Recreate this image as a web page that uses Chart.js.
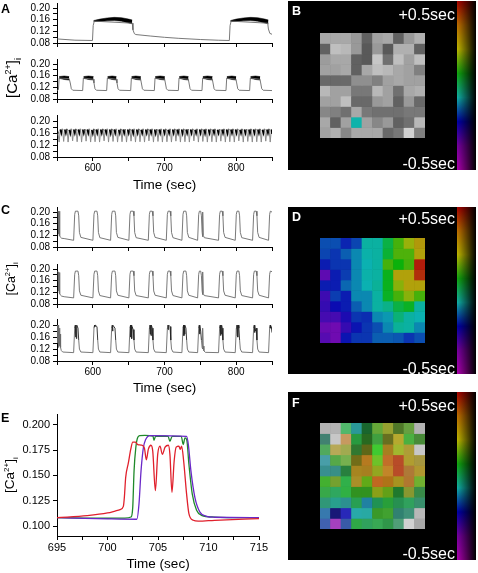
<!DOCTYPE html>
<html>
<head>
<meta charset="utf-8">
<title>Calcium traces and delay maps</title>
<script src="https://cdn.jsdelivr.net/npm/chart.js@4"></script>
<style>
  html, body { margin: 0; padding: 0; background: #fff; }
  #page { position: relative; width: 478px; height: 573px; overflow: hidden; font-family: "Liberation Sans", Arial, sans-serif; }
  canvas { position: absolute; }
  .tag { position: absolute; font-weight: bold; font-size: 12.5px; line-height: 12px; }
  .white { color: #fff; }
  .sec { position: absolute; color: #fff; font-size: 16px; line-height: 16px; right: 23px; }
  .ylab { position: absolute; transform: translate(-50%, -50%) rotate(-90deg); white-space: nowrap; line-height: 1; }
  .ylab sup, .ylab sub { font-size: 60%; line-height: 0; }
</style>
</head>
<body>
<div id="page"></div>
<script>
// ---- axes
const xTicksTrace = [550, 600, 650, 700, 750, 800, 850];
const xLabelsTrace = [600, 700, 800];
const yTicksTrace = [0.08, 0.10, 0.12, 0.14, 0.16, 0.18, 0.20];
const yLabelsTrace = [0.08, 0.12, 0.16, 0.20];
const xTicksE = [695, 697.5, 700, 702.5, 705, 707.5, 710, 712.5, 715];
const xLabelsE = [695, 700, 705, 710, 715];
const yTicksE = [0.1, 0.125, 0.15, 0.175, 0.2];

// ---- panel A traces
const timeA1 = [550, 575, 599.5, 600.5, 602, 655, 656, 658, 660, 680, 700, 720, 750, 775, 790.5, 791.5, 793, 844, 845, 847, 850];
const caA1 = [0.094, 0.0897, 0.0886, 0.14, 0.155, 0.148, 0.125, 0.112, 0.109, 0.104, 0.0995, 0.096, 0.092, 0.0895, 0.0886, 0.14, 0.155, 0.148, 0.128, 0.113, 0.11];
const bandTimeA1 = [601, 610, 620, 630, 640, 650, 655, null, 792, 800, 810, 820, 830, 840, 845];
const bandTopA1 = [0.157, 0.162, 0.166, 0.168, 0.167, 0.162, 0.159, null, 0.157, 0.162, 0.166, 0.168, 0.167, 0.162, 0.159];
const bandLowA1 = [0.154, 0.154, 0.156, 0.157, 0.155, 0.149, 0.146, null, 0.154, 0.154, 0.156, 0.157, 0.155, 0.149, 0.146];

const timeA2 = [550, 552, 553, 567, 568.5, 570, 572,
  585.8, 586.8, 600.6, 601.6, 603, 605,
  619.3, 620.3, 632.7, 633.7, 635.2, 637.2,
  652.8, 653.8, 666.7, 667.7, 669.2, 671.2,
  685.8, 686.8, 700.2, 701.2, 702.7, 704.7,
  719.3, 720.3, 733.2, 734.2, 735.7, 737.7,
  752.3, 753.3, 766.7, 767.7, 769.2, 771.2,
  785.8, 786.8, 799.7, 800.7, 802.2, 804.2,
  818.8, 819.8, 833.2, 834.2, 835.7, 837.7, 850];
const caA2 = [0.109, 0.112, 0.152, 0.15, 0.135, 0.115, 0.11,
  0.109, 0.152, 0.148, 0.135, 0.115, 0.11,
  0.109, 0.152, 0.148, 0.135, 0.115, 0.11,
  0.109, 0.152, 0.148, 0.135, 0.115, 0.11,
  0.109, 0.152, 0.148, 0.135, 0.115, 0.11,
  0.109, 0.152, 0.148, 0.135, 0.115, 0.11,
  0.109, 0.152, 0.148, 0.135, 0.115, 0.11,
  0.109, 0.152, 0.148, 0.135, 0.115, 0.11,
  0.109, 0.152, 0.148, 0.135, 0.115, 0.11, 0.109];
const bandTimeA2 = [553, 560, 567, null, 587, 594, 601, null, 620.5, 627, 633, null, 654, 660, 667, null, 687, 694, 700.5, null, 720.5, 727, 733.5, null, 753.5, 760, 767, null, 787, 794, 800, null, 820, 827, 833.5];
const bandTopA2 = [0.157, 0.159, 0.157, null, 0.157, 0.159, 0.157, null, 0.157, 0.159, 0.157, null, 0.157, 0.159, 0.157, null, 0.157, 0.159, 0.157, null, 0.157, 0.159, 0.157, null, 0.157, 0.159, 0.157, null, 0.157, 0.159, 0.157, null, 0.157, 0.159, 0.157];
const bandLowA2 = [0.151, 0.147, 0.145, null, 0.151, 0.147, 0.145, null, 0.151, 0.147, 0.145, null, 0.151, 0.147, 0.145, null, 0.151, 0.147, 0.145, null, 0.151, 0.147, 0.145, null, 0.151, 0.147, 0.145, null, 0.151, 0.147, 0.145, null, 0.151, 0.147, 0.145];

const timeA3 = [550, 551.5,
  553, 554.6, 556.1, 557.7, 559.3, 560.9, 562.4, 564, 565.5, 567.1, 568.6, 570.2, 571.8, 573.4, 574.9, 576.5,
  578.1, 579.7, 581.2, 582.8, 584.3, 585.9, 587.4, 589, 590.6, 592.2, 593.7, 595.3, 596.9, 598.5, 600, 601.6,
  603.1, 604.7, 606.2, 607.8, 609.4, 611, 612.5, 614.1, 615.7, 617.3, 618.8, 620.4, 621.9, 623.5, 625, 626.6,
  628.2, 629.8, 631.3, 632.9, 634.5, 636.1, 637.6, 639.2, 640.7, 642.3, 643.8, 645.4, 647, 648.6, 650.1, 651.7,
  653.3, 654.9, 656.4, 658, 659.5, 661.1, 662.6, 664.2, 665.8, 667.4, 668.9, 670.5, 672.1, 673.7, 675.2, 676.8,
  678.3, 679.9, 681.4, 683, 684.6, 686.2, 687.7, 689.3, 690.9, 692.5, 694, 695.6, 697.1, 698.7, 700.2, 701.8,
  703.4, 705, 706.5, 708.1, 709.7, 711.3, 712.8, 714.4, 715.9, 717.5, 719, 720.6, 722.2, 723.8, 725.3, 726.9,
  728.5, 730.1, 731.6, 733.2, 734.7, 736.3, 737.8, 739.4, 741, 742.6, 744.1, 745.7, 747.3, 748.9, 750.4, 752,
  753.5, 755.1, 756.6, 758.2, 759.8, 761.4, 762.9, 764.5, 766.1, 767.7, 769.2, 770.8, 772.3, 773.9, 775.4, 777,
  778.6, 780.2, 781.7, 783.3, 784.9, 786.5, 788, 789.6, 791.1, 792.7, 794.2, 795.8, 797.4, 799, 800.5, 802.1,
  803.7, 805.3, 806.8, 808.4, 809.9, 811.5, 813, 814.6, 816.2, 817.8, 819.3, 820.9, 822.5, 824.1, 825.6, 827.2,
  828.7, 830.3, 831.8, 833.4, 835, 836.6, 838.1, 839.7, 841.3, 842.9, 844.4, 846, 847.5, 849.1, 850];
const caA3 = [0.172, 0.158,
  0.13, 0.172, 0.158, 0.174, 0.132, 0.172, 0.158, 0.174, 0.13, 0.171, 0.157, 0.174, 0.134, 0.172, 0.158, 0.174,
  0.131, 0.172, 0.158, 0.174, 0.13, 0.172, 0.158, 0.173, 0.133, 0.172, 0.158, 0.174, 0.13, 0.171, 0.157, 0.174,
  0.131, 0.172, 0.158, 0.174, 0.13, 0.172, 0.158, 0.174, 0.134, 0.172, 0.158, 0.174, 0.13, 0.172, 0.157, 0.174,
  0.132, 0.172, 0.158, 0.174, 0.13, 0.171, 0.158, 0.174, 0.131, 0.172, 0.158, 0.173, 0.13, 0.172, 0.158, 0.174,
  0.133, 0.172, 0.157, 0.174, 0.13, 0.172, 0.158, 0.174, 0.131, 0.171, 0.158, 0.174, 0.13, 0.172, 0.158, 0.174,
  0.134, 0.172, 0.158, 0.174, 0.13, 0.172, 0.157, 0.173, 0.132, 0.172, 0.158, 0.174, 0.13, 0.172, 0.158, 0.174,
  0.131, 0.171, 0.158, 0.174, 0.13, 0.172, 0.158, 0.174, 0.133, 0.172, 0.158, 0.174, 0.13, 0.172, 0.157, 0.174,
  0.131, 0.172, 0.158, 0.173, 0.13, 0.172, 0.158, 0.174, 0.134, 0.171, 0.158, 0.174, 0.13, 0.172, 0.158, 0.174,
  0.132, 0.172, 0.157, 0.174, 0.13, 0.172, 0.158, 0.174, 0.131, 0.172, 0.158, 0.174, 0.13, 0.171, 0.158, 0.173,
  0.133, 0.172, 0.158, 0.174, 0.13, 0.172, 0.157, 0.174, 0.131, 0.172, 0.158, 0.174, 0.13, 0.172, 0.158, 0.174,
  0.134, 0.171, 0.158, 0.174, 0.13, 0.172, 0.158, 0.173, 0.132, 0.172, 0.157, 0.174, 0.13, 0.172, 0.158, 0.174,
  0.131, 0.172, 0.158, 0.174, 0.13, 0.171, 0.158, 0.174, 0.133, 0.172, 0.158, 0.174, 0.13, 0.172, 0.157];

// ---- panel C traces
const timeC = [550.5, 551.5, 552, 552.5, 553, 553.5, 554, 555, 556.5, 560,
  573.2, 574.7, 575.7, 579.3, 580.3, 581.3, 583.3,
  600.1, 601.6, 602.6, 605.8, 606.8, 607.8, 609.8,
  624.8, 626.3, 627.3, 630.9, 631.9, 632.9, 634.9,
  650.3, 651.8, 652.8, 656.4, 657.4, 658.4, 660.4,
  677.4, 678.9, 679.9, 682.9, 683.9, 684.9, 686.9,
  702.5, 704, 705, 707.8, 708.8, 709.8, 711.8,
  724.3, 725.8, 726.8, 729.9, 730.9, 731.9, 733.9,
  746.2, 747.7, 748.7, 750.5, 751.5, 752.5, 753, 753.6, 754.2, 755.5,
  775.4, 776.9, 777.9, 780.5, 781.5, 782.5, 784.5,
  798.7, 800.2, 801.2, 803.8, 804.8, 805.8, 807.8,
  822.9, 824.4, 825.4, 828, 829, 830, 832,
  845.2, 846.7, 847.7, 850];
const caC1 = [0.203, 0.203, 0.125, 0.203, 0.12, 0.203, 0.118, 0.113, 0.11, 0.109,
  0.103, 0.192, 0.203, 0.203, 0.187, 0.13, 0.113,
  0.103, 0.192, 0.203, 0.203, 0.187, 0.13, 0.112,
  0.103, 0.192, 0.203, 0.203, 0.187, 0.13, 0.113,
  0.103, 0.192, 0.203, 0.203, 0.187, 0.13, 0.112,
  0.103, 0.192, 0.203, 0.203, 0.187, 0.13, 0.113,
  0.103, 0.192, 0.203, 0.203, 0.187, 0.13, 0.112,
  0.103, 0.192, 0.203, 0.203, 0.187, 0.13, 0.113,
  0.103, 0.192, 0.203, 0.203, 0.187, 0.13, 0.115, 0.2, 0.12, 0.112,
  0.103, 0.192, 0.203, 0.203, 0.187, 0.13, 0.113,
  0.103, 0.192, 0.203, 0.203, 0.187, 0.13, 0.112,
  0.103, 0.192, 0.203, 0.203, 0.187, 0.13, 0.113,
  0.103, 0.192, 0.203, 0.2];
const caC2 = [0.193, 0.19, 0.125, 0.19, 0.12, 0.188, 0.115, 0.11, 0.107, 0.105,
  0.101, 0.182, 0.193, 0.193, 0.177, 0.125, 0.11,
  0.101, 0.182, 0.193, 0.193, 0.177, 0.125, 0.109,
  0.101, 0.182, 0.193, 0.193, 0.177, 0.125, 0.11,
  0.101, 0.182, 0.193, 0.193, 0.177, 0.125, 0.109,
  0.101, 0.182, 0.193, 0.193, 0.177, 0.125, 0.11,
  0.101, 0.182, 0.193, 0.193, 0.177, 0.125, 0.109,
  0.101, 0.182, 0.193, 0.193, 0.177, 0.125, 0.11,
  0.101, 0.182, 0.193, 0.193, 0.177, 0.125, 0.112, 0.19, 0.115, 0.109,
  0.101, 0.182, 0.193, 0.193, 0.177, 0.125, 0.11,
  0.101, 0.182, 0.193, 0.193, 0.177, 0.125, 0.109,
  0.101, 0.182, 0.193, 0.193, 0.177, 0.125, 0.11,
  0.101, 0.182, 0.193, 0.191];
const timeC3 = [550.5, 551, 551.5, 552, 552.5, 553, 553.5, 554, 554.5, 555, 556, 558, 573.2,
  574.7, 575.5, 576, 576.5, 577.1, 577.6, 579.3, 580.3, 581.3, 583.3, 600.1,
  601.6, 602.4, 602.9, 603.5, 605.8, 606.8, 607.8, 609.8, 624.8,
  626.3, 627.1, 627.6, 628.1, 630.9, 631.9, 632.9, 634.9, 650.3,
  651.8, 652.6, 653.1, 653.6, 654.2, 654.7, 656.4, 657.4, 658.4, 660.4, 677.4,
  678.9, 679.7, 680.2, 680.7, 681.2, 681.7, 682.9, 683.9, 684.9, 686.9, 702.5,
  704, 704.8, 705.3, 705.8, 707.8, 708.8, 709.8, 711.8, 724.3,
  725.8, 726.6, 727.1, 727.6, 728.1, 728.6, 729.9, 730.9, 731.9, 733.9, 746.2,
  747.7, 748.5, 749, 749.5, 750.5, 751.5, 752.5, 753, 753.5, 754, 755, 757, 775.4,
  776.9, 777.7, 778.2, 778.7, 779.2, 779.7, 780.5, 781.5, 782.5, 784.5, 798.7,
  800.2, 801, 801.5, 802, 802.5, 803, 803.8, 804.8, 805.8, 807.8, 822.9,
  824.4, 825.2, 825.7, 826.2, 826.7, 828, 829, 830, 832, 845.2,
  846.7, 847.5, 848.1, 849, 850];
const caC3 = [0.2, 0.14, 0.2, 0.125, 0.2, 0.13, 0.19, 0.135, 0.17, 0.125, 0.115, 0.11, 0.108,
  0.19, 0.2, 0.16, 0.2, 0.155, 0.2, 0.19, 0.15, 0.12, 0.11, 0.108,
  0.19, 0.2, 0.195, 0.2, 0.195, 0.15, 0.12, 0.11, 0.108,
  0.19, 0.2, 0.18, 0.2, 0.19, 0.15, 0.12, 0.11, 0.108,
  0.19, 0.2, 0.16, 0.2, 0.155, 0.195, 0.185, 0.15, 0.12, 0.11, 0.108,
  0.19, 0.2, 0.17, 0.2, 0.165, 0.2, 0.19, 0.15, 0.12, 0.11, 0.108,
  0.19, 0.2, 0.185, 0.2, 0.195, 0.15, 0.12, 0.11, 0.108,
  0.19, 0.2, 0.165, 0.2, 0.17, 0.2, 0.19, 0.15, 0.12, 0.11, 0.108,
  0.19, 0.2, 0.17, 0.2, 0.18, 0.15, 0.125, 0.12, 0.19, 0.13, 0.114, 0.109, 0.108,
  0.19, 0.2, 0.165, 0.2, 0.17, 0.2, 0.19, 0.15, 0.12, 0.11, 0.108,
  0.19, 0.2, 0.165, 0.2, 0.16, 0.2, 0.19, 0.15, 0.12, 0.11, 0.108,
  0.19, 0.2, 0.175, 0.2, 0.18, 0.19, 0.15, 0.12, 0.11, 0.108,
  0.19, 0.2, 0.19, 0.195, 0.175];

// ---- panel E traces
const timeRed = [695, 698, 700, 700.75, 701.25, 701.57, 701.67, 701.8, 702.07, 702.3, 702.5, 702.75, 703, 703.4, 703.65, 703.85, 704.04, 704.3, 704.48, 704.74, 704.97, 705.2, 705.43, 705.7, 706.02, 706.18, 706.38, 706.6, 706.8, 707.07, 707.2, 707.34, 707.54, 707.83, 708.06, 708.49, 708.98, 710.6, 715];
const caRed = [0.1084, 0.1104, 0.113, 0.1149, 0.1163, 0.1195, 0.1285, 0.148, 0.1626, 0.1757, 0.1828, 0.1828, 0.1805, 0.1798, 0.1772, 0.1655, 0.1757, 0.1798, 0.174, 0.135, 0.1708, 0.1789, 0.1708, 0.1779, 0.1798, 0.1708, 0.1334, 0.1643, 0.1779, 0.1789, 0.1757, 0.1789, 0.1643, 0.1318, 0.1124, 0.1058, 0.1049, 0.1058, 0.1075];
const timeGreen = [695, 700, 701.7, 702.33, 702.5, 702.63, 702.8, 703, 703.2, 703.7, 704.5, 704.6, 704.77, 706, 706.18, 706.4, 707.3, 707.5, 707.67, 707.85, 708.06, 708.39, 708.82, 709.3, 710.6, 715];
const caGreen = [0.1084, 0.1078, 0.108, 0.109, 0.1188, 0.1545, 0.1772, 0.1876, 0.1893, 0.1896, 0.1889, 0.1847, 0.1889, 0.1886, 0.1837, 0.1886, 0.1886, 0.1805, 0.187, 0.185, 0.161, 0.1318, 0.1156, 0.1107, 0.109, 0.1082];
const timePurple = [695, 700, 702.9, 703.12, 703.32, 703.55, 703.78, 704.2, 707.83, 708, 708.26, 708.65, 709.15, 709.8, 710.6, 715];
const caPurple = [0.1084, 0.1072, 0.1068, 0.1221, 0.1545, 0.1772, 0.1854, 0.1893, 0.1886, 0.1808, 0.1545, 0.1285, 0.1139, 0.1097, 0.1088, 0.1085];

// ---- delay maps, seconds, rows top to bottom
const mapCols = ['c1', 'c2', 'c3', 'c4', 'c5', 'c6', 'c7', 'c8', 'c9', 'c10'];
const lightB = [
  [66, 66, 66, 60, 38, 63, 66, 38, 60, 69],
  [38, 75, 72, 60, 35, 60, 35, 69, 69, 38],
  [61, 66, 66, 38, 35, 78, 44, 75, 63, 75],
  [63, 63, 66, 38, 66, 75, 72, 66, 63, 50],
  [41, 41, 41, 56, 56, 50, 63, 66, 63, 63],
  [72, 63, 63, 47, 47, 72, 63, 44, 66, 69],
  [63, 63, 75, 41, 41, 60, 63, 38, 60, 41],
  [53, 50, 44, 66, 47, 44, 44, 44, 47, 47],
  [66, 38, 63, 38, 63, 53, 60, 38, 44, 72],
  [63, 69, 53, 66, 66, 66, 41, 47, 82, 50]];
const satB = [
  [0, 0, 0, 0, 0, 0, 0, 0, 0, 0],
  [0, 0, 0, 0, 0, 0, 0, 0, 0, 0],
  [0, 0, 0, 0, 0, 0, 0, 0, 0, 0],
  [0, 0, 0, 0, 0, 0, 0, 0, 0, 0],
  [0, 0, 0, 0, 0, 0, 0, 0, 0, 0],
  [0, 0, 0, 0, 0, 0, 0, 0, 0, 0],
  [0, 0, 0, 0, 0, 0, 0, 0, 0, 0],
  [0, 0, 0, 0, 0, 0, 0, 0, 0, 0],
  [0, 0, 0, 85, 0, 0, 0, 0, 0, 0],
  [0, 0, 0, 0, 0, 0, 0, 0, 0, 0]];
const delayB = [
  [0, 0, 0, 0, 0, 0, 0, 0, 0, 0],
  [0, 0, 0, 0, 0, 0, 0, 0, 0, 0],
  [0, 0, 0, 0, 0, 0, 0, 0, 0, 0],
  [0, 0, 0, 0, 0, 0, 0, 0, 0, 0],
  [0, 0, 0, 0, 0, 0, 0, 0, 0, 0],
  [0, 0, 0, 0, 0, 0, 0, 0, 0, 0],
  [0, 0, 0, 0, 0, 0, 0, 0, 0, 0],
  [0, 0, 0, 0, 0, 0, 0, 0, 0, 0],
  [0, 0, 0, -0.09, 0, 0, 0, 0, 0, 0],
  [0, 0, 0, 0, 0, 0, 0, 0, 0, 0]];
const delayD = [
  [-0.22, -0.22, -0.27, -0.23, -0.08, -0.08, 0.03, 0.17, 0.27, 0.33],
  [-0.23, -0.25, -0.2, -0.15, -0.09, -0.08, 0.05, 0.18, 0.18, 0.32],
  [-0.28, -0.25, -0.25, -0.15, -0.1, -0.08, 0.17, 0.1, 0.17, 0.48],
  [-0.4, -0.28, -0.24, -0.15, -0.09, -0.08, 0.08, 0.32, 0.32, 0.46],
  [-0.28, -0.28, -0.19, -0.15, -0.1, -0.07, 0.08, 0.25, 0.32, 0.32],
  [-0.36, -0.24, -0.28, -0.15, -0.15, -0.08, 0.07, 0.17, 0.25, 0.17],
  [-0.35, -0.3, -0.28, -0.2, -0.15, -0.08, -0.05, 0.03, 0.07, -0.08],
  [-0.37, -0.37, -0.32, -0.25, -0.26, -0.15, -0.13, -0.03, -0.08, -0.1],
  [-0.41, -0.42, -0.35, -0.29, -0.25, -0.22, -0.15, -0.07, -0.08, -0.15],
  [-0.39, -0.42, -0.29, -0.25, -0.25, -0.2, -0.2, -0.21, -0.25, -0.22]];
const satD = 88;
const lightD = 37;
const delayF = [
  [0, 0, 0.05, -0.1, 0.05, 0.18, 0.28, 0.2, 0.18, 0],
  [-0.05, 0, 0.39, 0.06, 0.12, 0.1, 0.28, 0.32, 0.12, 0.14],
  [0.07, 0.33, 0.28, 0.1, 0.28, 0.12, 0.36, 0.27, 0.33, 0],
  [-0.12, 0.13, 0.18, 0.31, 0.38, 0.19, 0.41, 0.45, 0.33, 0.33],
  [-0.1, -0.08, 0.05, 0.35, 0.36, 0.27, 0.38, 0.45, 0.39, 0.34],
  [0.13, 0.22, 0.06, 0.34, 0.2, 0.41, 0.38, 0.33, 0.39, 0.2],
  [0.07, 0.02, 0.07, 0.13, 0.13, 0.27, 0.21, 0.07, 0.27, 0.06],
  [-0.04, -0.07, -0.1, 0.03, -0.15, 0.01, 0.07, 0.02, 0.02, -0.02],
  [-0.19, -0.3, -0.3, -0.1, -0.09, 0.13, 0.13, -0.06, -0.04, 0],
  [-0.24, -0.46, -0.24, 0.06, 0.02, 0.05, 0.05, 0, 0, 0]];
const satF = [
  [0, 0, 42, 57, 60, 50, 54, 50, 43, 0],
  [33, 0, 48, 59, 53, 43, 55, 59, 47, 42],
  [35, 40, 36, 43, 62, 61, 68, 59, 52, 0],
  [40, 40, 38, 65, 70, 65, 65, 64, 57, 45],
  [44, 44, 52, 68, 68, 68, 65, 64, 52, 57],
  [57, 54, 57, 62, 75, 71, 76, 68, 57, 57],
  [50, 56, 57, 64, 64, 74, 74, 58, 52, 42],
  [52, 60, 53, 60, 67, 64, 60, 57, 54, 44],
  [52, 67, 64, 62, 62, 58, 54, 45, 39, 0],
  [47, 50, 50, 56, 54, 50, 52, 33, 0, 0]];
const lightF = [
  [70, 70, 52, 38, 25, 44, 41, 31, 44, 70],
  [38, 78, 58, 38, 27, 44, 28, 45, 47, 38],
  [49, 53, 49, 33, 25, 49, 39, 45, 45, 78],
  [47, 47, 50, 27, 42, 46, 46, 44, 44, 45],
  [39, 39, 33, 39, 39, 39, 46, 44, 45, 44],
  [44, 41, 44, 41, 38, 44, 39, 39, 44, 44],
  [44, 42, 44, 35, 35, 36, 36, 30, 39, 38],
  [39, 39, 37, 39, 38, 35, 39, 36, 41, 39],
  [45, 28, 44, 41, 41, 38, 41, 35, 41, 72],
  [47, 50, 44, 42, 41, 44, 39, 47, 82, 66]];

// colour strip, top to bottom
const stripColors = ['#a80000', '#c07000', '#c0b800', '#10a810', '#10b0a8', '#0000a8', '#7800a0', '#b000b0'];

Chart.defaults.font.family = '"Liberation Sans", Arial, sans-serif';
Chart.defaults.color = '#000';
Chart.defaults.animation = false;

const page = document.getElementById('page');

function addCanvas(left, top, width, height) {
  const c = document.createElement('canvas');
  c.width = width;
  c.height = height;
  c.style.left = left + 'px';
  c.style.top = top + 'px';
  page.appendChild(c);
  return c;
}

function addText(cls, text, style) {
  const d = document.createElement('div');
  d.className = cls;
  d.innerHTML = text;
  Object.assign(d.style, style);
  page.appendChild(d);
}

function zip(xs, ys) {
  return xs.map((x, i) => ({ x: x, y: ys[i] }));
}

function lineSet(xs, ys, color, width) {
  return { data: zip(xs, ys), borderColor: color, borderWidth: width, pointRadius: 0, fill: false, tension: 0 };
}

// dark and heavier where the trace is up in its fast oscillation, grey on the way down
function darkTop(set, level, dark, pale, heavy) {
  const up = c => c.p0.parsed.y >= level && c.p1.parsed.y >= level;
  set.segment = {
    borderColor: c => (up(c) ? dark : pale),
    borderWidth: c => (up(c) ? heavy : set.borderWidth)
  };
  return set;
}

// the null entries split one list into separate filled plateaus
function bandSets(xs, top, low) {
  const sets = [];
  let start = 0;
  for (let i = 0; i <= xs.length; i++) {
    if (i === xs.length || xs[i] === null) {
      sets.push({ data: zip(xs.slice(start, i), top.slice(start, i)), borderColor: '#000', backgroundColor: '#000', borderWidth: 0.5, pointRadius: 0, fill: '+1' });
      sets.push({ data: zip(xs.slice(start, i), low.slice(start, i)), borderColor: '#000', borderWidth: 0.5, pointRadius: 0, fill: false });
      start = i + 1;
    }
  }
  return sets;
}

// axes box is pinned in page pixels so the stacked panels line up
function plot(o) {
  const padTop = 8, padRight = 12;
  const xBox = o.xBox;
  const cv = addCanvas(0, o.top - padTop, o.right + padRight, o.bottom - o.top + padTop + xBox);
  return new Chart(cv, {
    type: 'line',
    data: { datasets: o.datasets },
    options: {
      responsive: false,
      layout: { padding: { top: padTop, right: padRight, left: 0, bottom: 0 } },
      plugins: { legend: { display: false }, tooltip: { enabled: false } },
      scales: {
        x: {
          type: 'linear', min: o.xMin, max: o.xMax,
          afterFit: s => { s.height = xBox; },
          afterBuildTicks: s => { s.ticks = o.xTicks.map(v => ({ value: v })); },
          border: { color: '#000', width: 1 },
          grid: { drawOnChartArea: false, tickLength: 4, tickColor: '#000', tickWidth: 1 },
          ticks: {
            autoSkip: false, maxRotation: 0, minRotation: 0, padding: 1,
            font: { size: o.fontSize },
            callback: v => (o.xLabels.includes(v) ? String(v) : '')
          },
          title: {
            display: !!o.xTitle, text: o.xTitle || '',
            font: { size: 13.5 }, padding: 0
          }
        },
        y: {
          type: 'linear', min: o.yMin, max: o.yMax,
          afterFit: s => { s.width = o.left; },
          afterBuildTicks: s => { s.ticks = o.yTicks.map(v => ({ value: v })); },
          border: { color: '#000', width: 1 },
          grid: { drawOnChartArea: false, tickLength: 4, tickColor: '#000', tickWidth: 1 },
          ticks: {
            autoSkip: false, padding: 3,
            font: { size: o.fontSize },
            callback: v => (o.yLabels.includes(v) ? v.toFixed(o.yDigits) : '')
          }
        }
      }
    }
  });
}

function tracePlot(top, bottom, datasets, xBox, xTitle) {
  return plot({
    top: top, bottom: bottom, left: 57, right: 272, xBox: xBox, xTitle: xTitle, fontSize: 10,
    xMin: 550, xMax: 850, xTicks: xTicksTrace, xLabels: xTitle ? xLabelsTrace : [],
    yMin: 0.08, yMax: 0.08 + 0.12 * (bottom - top) / 36.7, yTicks: yTicksTrace, yLabels: yLabelsTrace, yDigits: 2,
    datasets: datasets
  });
}

const ink = '#6a6a6a';

tracePlot(2, 44, [lineSet(timeA1, caA1, ink, 0.9)].concat(bandSets(bandTimeA1, bandTopA1, bandLowA1)), 8);
tracePlot(58, 100, [lineSet(timeA2, caA2, ink, 0.9)].concat(bandSets(bandTimeA2, bandTopA2, bandLowA2)), 8);
tracePlot(114, 157, [darkTop(lineSet(timeA3, caA3, ink, 1), 0.15, '#000', '#8a8a8a', 1.5)], 36, 'Time (sec)');

tracePlot(206, 248, [lineSet(timeC, caC1, ink, 0.9)], 8);
tracePlot(263, 305, [lineSet(timeC, caC2, ink, 0.9)], 8);
tracePlot(318, 361, [darkTop(lineSet(timeC3, caC3, ink, 0.9), 0.15, '#222', ink, 0.9)], 35, 'Time (sec)');

plot({
  top: 413, bottom: 536, left: 57, right: 259, xBox: 36, xTitle: 'Time (sec)', fontSize: 11,
  xMin: 695, xMax: 715, xTicks: xTicksE, xLabels: xLabelsE,
  yMin: 0.0903, yMax: 0.21, yTicks: yTicksE, yLabels: yTicksE, yDigits: 3,
  datasets: [
    Object.assign(lineSet(timeRed, caRed, '#e0202c', 1.3), { order: 1, cubicInterpolationMode: 'monotone' }),
    Object.assign(lineSet(timePurple, caPurple, '#6a28c8', 1.3), { order: 2, cubicInterpolationMode: 'monotone' }),
    Object.assign(lineSet(timeGreen, caGreen, '#1f8a2a', 1.3), { order: 3, cubicInterpolationMode: 'monotone' })
  ]
});

// hue runs red at +0.5 s round to magenta at -0.5 s
function delayColor(delay, sat, light) {
  return 'hsl(' + Math.round((0.5 - delay) * 300) + ',' + sat + '%,' + light + '%)';
}

const mapBackdrop = {
  id: 'mapBackdrop',
  beforeDraw(chart) {
    const ctx = chart.ctx, w = chart.width, h = chart.height;
    ctx.save();
    ctx.fillStyle = '#000';
    ctx.fillRect(0, 0, w, h);
    const down = ctx.createLinearGradient(0, 0, 0, h);
    stripColors.forEach((c, i) => down.addColorStop(i / (stripColors.length - 1), c));
    ctx.fillStyle = down;
    ctx.fillRect(w - 19, 0, 19, h);
    const across = ctx.createLinearGradient(w - 19, 0, w, 0);
    across.addColorStop(0, 'rgba(0,0,0,0)');
    across.addColorStop(1, 'rgba(0,0,0,1)');
    ctx.fillStyle = across;
    ctx.fillRect(w - 19, 0, 19, h);
    ctx.restore();
  }
};

function delayMap(top, height, gridTop, gridBottom, rows) {
  const cv = addCanvas(288, top, 188, height);
  return new Chart(cv, {
    type: 'bar',
    data: {
      labels: mapCols,
      datasets: rows.map(row => ({
        data: row.map(() => 1),
        backgroundColor: row,
        borderWidth: 0,
        barPercentage: 1,
        categoryPercentage: 1,
        stack: 'map'
      }))
    },
    options: {
      responsive: false,
      layout: { padding: { left: 32, right: 51, top: gridTop - top, bottom: top + height - gridBottom } },
      plugins: { legend: { display: false }, tooltip: { enabled: false } },
      scales: {
        x: { display: false, stacked: true },
        y: { display: false, stacked: true, reverse: true, min: 0, max: 10 }
      }
    },
    plugins: [mapBackdrop]
  });
}

const rowsB = delayB.map((r, i) => r.map((d, j) => delayColor(d, satB[i][j], lightB[i][j])));
const rowsD = delayD.map(r => r.map(d => delayColor(d, satD, lightD)));
const rowsF = delayF.map((r, i) => r.map((d, j) => delayColor(d, satF[i][j], lightF[i][j])));

delayMap(1, 169, 33, 138, rowsB);
delayMap(207, 167, 238, 343, rowsD);
delayMap(392, 168, 423, 529, rowsF);

// labels that need markup or sit outside the charts
addText('tag', 'A', { left: '1px', top: '3px' });
addText('tag', 'C', { left: '1px', top: '204px' });
addText('tag', 'E', { left: '1px', top: '412px' });
addText('tag white', 'B', { left: '292px', top: '5px' });
addText('tag white', 'D', { left: '292px', top: '211px' });
addText('tag white', 'F', { left: '292px', top: '397px' });

const caLabel = '[Ca<sup>2+</sup>]<sub>i</sub>';
addText('ylab', caLabel, { left: '11px', top: '78px', fontSize: '15px' });
addText('ylab', caLabel, { left: '11px', top: '279px', fontSize: '12.5px' });
addText('ylab', caLabel, { left: '10px', top: '475px', fontSize: '13.5px' });

[[7, 156], [211, 361], [398, 546]].forEach(pair => {
  addText('sec', '+0.5sec', { top: pair[0] + 'px' });
  addText('sec', '-0.5sec', { top: pair[1] + 'px' });
});
</script>
</body>
</html>
